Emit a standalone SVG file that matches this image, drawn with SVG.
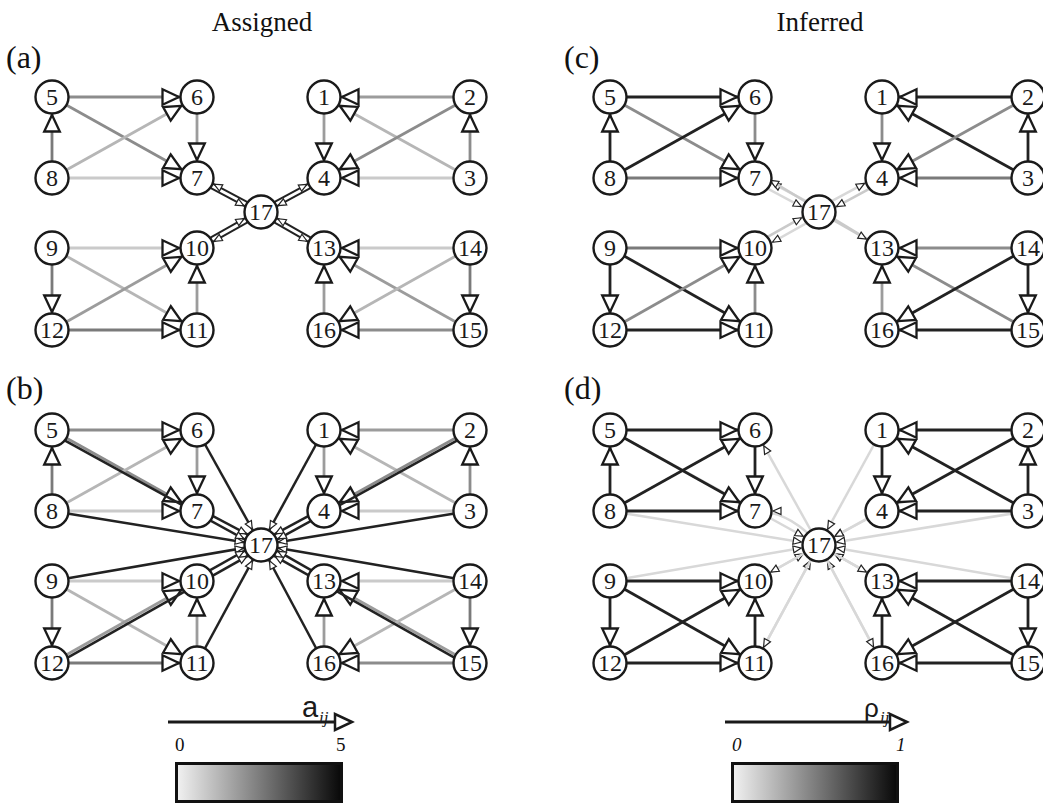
<svg xmlns="http://www.w3.org/2000/svg" width="1043" height="805" viewBox="0 0 1043 805">
<defs>
<style>
.node circle{fill:#fff;stroke:#1a1a1a;stroke-width:2.4}
.node text{font-family:"Liberation Serif","Times New Roman",serif;font-size:24px;text-anchor:middle;fill:#1a1a1a}
.e{stroke-width:2.8;fill:none;marker-end:url(#big)}
.s{stroke-width:2;fill:none;marker-end:url(#small)}
.d{stroke-width:2.5;fill:none;marker-end:url(#small)}
.l{stroke-width:2.5;fill:none;marker-end:url(#small)}
.k1{stroke:#222}
.k3{stroke:#7a7a7a}
.k4{stroke:#8c8c8c}
.k5{stroke:#9c9c9c}
.k6{stroke:#b6b6b6}
.k7{stroke:#cacaca}
.k8{stroke:#d8d8d8}
.ah{fill:#fff;stroke:#1a1a1a;stroke-width:2.3;stroke-linejoin:miter}
.as{fill:#fff;stroke:#222;stroke-width:1.2}
.title{font-family:"Liberation Serif","Times New Roman",serif;font-size:27px;fill:#111}
.plabel{font-family:"Liberation Serif","Times New Roman",serif;font-size:32px;fill:#111}
.num{font-family:"Liberation Serif","Times New Roman",serif;font-size:19px;fill:#111}
</style>
<marker id="big" markerUnits="userSpaceOnUse" orient="auto" refX="0" refY="0" markerWidth="40" markerHeight="20" overflow="visible" style="overflow:visible">
<path class="ah" d="M-18,0 L-34.5,-7.8 L-34.5,7.8 Z"/>
</marker>
<marker id="small" markerUnits="userSpaceOnUse" orient="auto" refX="0" refY="0" markerWidth="30" markerHeight="10" overflow="visible" style="overflow:visible">
<path class="as" d="M-18,0 L-26,-3.5 L-26,3.5 Z"/>
</marker>
<linearGradient id="grad" x1="0" y1="0" x2="1" y2="0">
<stop offset="0" stop-color="#f2f2f2"/>
<stop offset="1" stop-color="#080808"/>
</linearGradient>
</defs>
<rect width="1043" height="805" fill="#fff"/>

<text class="title" x="262" y="31" text-anchor="middle">Assigned</text>
<text class="title" x="820" y="31" text-anchor="middle">Inferred</text>
<text class="plabel" x="6" y="68">(a)</text>
<text class="plabel" x="6" y="399">(b)</text>
<text class="plabel" x="564" y="68">(c)</text>
<text class="plabel" x="564" y="399">(d)</text>

<!-- Panel (a) -->
<g id="panel-a">
<g id="a-connectors">
<line class="e k4" x1="52" y1="97" x2="197" y2="97"/>
<line class="e k4" x1="52" y1="97" x2="197" y2="178"/>
<line class="e k3" x1="52" y1="178" x2="52" y2="97"/>
<line class="e k6" x1="52" y1="178" x2="197" y2="97"/>
<line class="e k7" x1="52" y1="178" x2="197" y2="178"/>
<line class="e k5" x1="197" y1="97" x2="197" y2="178"/>
<line class="e k7" x1="52" y1="248" x2="197" y2="248"/>
<line class="e k6" x1="52" y1="248" x2="197" y2="330"/>
<line class="e k3" x1="52" y1="248" x2="52" y2="330"/>
<line class="e k5" x1="52" y1="330" x2="197" y2="248"/>
<line class="e k3" x1="52" y1="330" x2="197" y2="330"/>
<line class="e k5" x1="197" y1="330" x2="197" y2="248"/>
<line class="e k5" x1="470" y1="97" x2="324" y2="97"/>
<line class="e k6" x1="470" y1="178" x2="324" y2="97"/>
<line class="e k5" x1="324" y1="97" x2="324" y2="178"/>
<line class="e k4" x1="470" y1="97" x2="324" y2="178"/>
<line class="e k7" x1="470" y1="178" x2="324" y2="178"/>
<line class="e k4" x1="470" y1="178" x2="470" y2="97"/>
<line class="e k7" x1="470" y1="248" x2="324" y2="248"/>
<line class="e k5" x1="470" y1="330" x2="324" y2="248"/>
<line class="e k6" x1="470" y1="248" x2="324" y2="330"/>
<line class="e k4" x1="470" y1="330" x2="324" y2="330"/>
<line class="e k5" x1="324" y1="330" x2="324" y2="248"/>
<line class="e k3" x1="470" y1="248" x2="470" y2="330"/>
<line class="s k1" x1="262.17" y1="209.79" x2="198.17" y2="175.79"/>
<line class="s k1" x1="195.83" y1="180.21" x2="259.83" y2="214.21"/>
<line class="s k1" x1="262.23" y1="214.18" x2="198.23" y2="250.18"/>
<line class="s k1" x1="195.77" y1="245.82" x2="259.77" y2="209.82"/>
<line class="s k1" x1="259.81" y1="209.8" x2="322.81" y2="175.8"/>
<line class="s k1" x1="325.19" y1="180.2" x2="262.19" y2="214.2"/>
<line class="s k1" x1="259.76" y1="214.17" x2="322.76" y2="250.17"/>
<line class="s k1" x1="325.24" y1="245.83" x2="262.24" y2="209.83"/>
</g>
<g id="a-n1" class="node"><circle cx="324" cy="97" r="16.5"/><text x="324" y="105">1</text></g>
<g id="a-n2" class="node"><circle cx="470" cy="97" r="16.5"/><text x="470" y="105">2</text></g>
<g id="a-n3" class="node"><circle cx="470" cy="178" r="16.5"/><text x="470" y="186">3</text></g>
<g id="a-n4" class="node"><circle cx="324" cy="178" r="16.5"/><text x="324" y="186">4</text></g>
<g id="a-n5" class="node"><circle cx="52" cy="97" r="16.5"/><text x="52" y="105">5</text></g>
<g id="a-n6" class="node"><circle cx="197" cy="97" r="16.5"/><text x="197" y="105">6</text></g>
<g id="a-n7" class="node"><circle cx="197" cy="178" r="16.5"/><text x="197" y="186">7</text></g>
<g id="a-n8" class="node"><circle cx="52" cy="178" r="16.5"/><text x="52" y="186">8</text></g>
<g id="a-n9" class="node"><circle cx="52" cy="248" r="16.5"/><text x="52" y="256">9</text></g>
<g id="a-n10" class="node"><circle cx="197" cy="248" r="16.5"/><text x="197" y="256">10</text></g>
<g id="a-n11" class="node"><circle cx="197" cy="330" r="16.5"/><text x="197" y="338">11</text></g>
<g id="a-n12" class="node"><circle cx="52" cy="330" r="16.5"/><text x="52" y="338">12</text></g>
<g id="a-n13" class="node"><circle cx="324" cy="248" r="16.5"/><text x="324" y="256">13</text></g>
<g id="a-n14" class="node"><circle cx="470" cy="248" r="16.5"/><text x="470" y="256">14</text></g>
<g id="a-n15" class="node"><circle cx="470" cy="330" r="16.5"/><text x="470" y="338">15</text></g>
<g id="a-n16" class="node"><circle cx="324" cy="330" r="16.5"/><text x="324" y="338">16</text></g>
<g id="a-n17" class="node"><circle cx="261" cy="212" r="16.5"/><text x="261" y="220">17</text></g>
</g>

<!-- Panel (b) -->
<g id="panel-b" transform="translate(0,333)">
<g id="b-connectors">
<line class="e k4" x1="52" y1="97" x2="197" y2="97"/>
<line class="e k4" x1="52" y1="97" x2="197" y2="178"/>
<line class="e k3" x1="52" y1="178" x2="52" y2="97"/>
<line class="e k6" x1="52" y1="178" x2="197" y2="97"/>
<line class="e k7" x1="52" y1="178" x2="197" y2="178"/>
<line class="e k5" x1="197" y1="97" x2="197" y2="178"/>
<line class="e k7" x1="52" y1="248" x2="197" y2="248"/>
<line class="e k6" x1="52" y1="248" x2="197" y2="330"/>
<line class="e k3" x1="52" y1="248" x2="52" y2="330"/>
<line class="e k5" x1="52" y1="330" x2="197" y2="248"/>
<line class="e k3" x1="52" y1="330" x2="197" y2="330"/>
<line class="e k5" x1="197" y1="330" x2="197" y2="248"/>
<line class="e k5" x1="470" y1="97" x2="324" y2="97"/>
<line class="e k6" x1="470" y1="178" x2="324" y2="97"/>
<line class="e k5" x1="324" y1="97" x2="324" y2="178"/>
<line class="e k4" x1="470" y1="97" x2="324" y2="178"/>
<line class="e k7" x1="470" y1="178" x2="324" y2="178"/>
<line class="e k4" x1="470" y1="178" x2="470" y2="97"/>
<line class="e k7" x1="470" y1="248" x2="324" y2="248"/>
<line class="e k5" x1="470" y1="330" x2="324" y2="248"/>
<line class="e k6" x1="470" y1="248" x2="324" y2="330"/>
<line class="e k4" x1="470" y1="330" x2="324" y2="330"/>
<line class="e k5" x1="324" y1="330" x2="324" y2="248"/>
<line class="e k3" x1="470" y1="248" x2="470" y2="330"/>
<line class="d k1" x1="197" y1="97" x2="261" y2="212"/>
<line class="d k1" x1="52" y1="178" x2="261" y2="212"/>
<line class="d k1" x1="52" y1="248" x2="261" y2="212"/>
<line class="d k1" x1="197" y1="330" x2="261" y2="212"/>
<line class="d k1" x1="324" y1="97" x2="261" y2="212"/>
<line class="d k1" x1="470" y1="178" x2="261" y2="212"/>
<line class="d k1" x1="470" y1="248" x2="261" y2="212"/>
<line class="d k1" x1="324" y1="330" x2="261" y2="212"/>
<line class="d k1" x1="198.45" y1="175.37" x2="262.45" y2="209.37"/>
<line class="d k1" x1="50.55" y1="99.63" x2="259.55" y2="214.63"/>
<line class="d k1" x1="195.53" y1="245.39" x2="259.53" y2="209.39"/>
<line class="d k1" x1="53.47" y1="332.61" x2="262.47" y2="214.61"/>
<line class="d k1" x1="322.55" y1="175.37" x2="259.55" y2="209.37"/>
<line class="d k1" x1="471.45" y1="99.63" x2="262.45" y2="214.63"/>
<line class="d k1" x1="325.47" y1="245.39" x2="262.47" y2="209.39"/>
<line class="d k1" x1="468.53" y1="332.61" x2="259.53" y2="214.61"/>
</g>
<g id="b-n1" class="node"><circle cx="324" cy="97" r="16.5"/><text x="324" y="105">1</text></g>
<g id="b-n2" class="node"><circle cx="470" cy="97" r="16.5"/><text x="470" y="105">2</text></g>
<g id="b-n3" class="node"><circle cx="470" cy="178" r="16.5"/><text x="470" y="186">3</text></g>
<g id="b-n4" class="node"><circle cx="324" cy="178" r="16.5"/><text x="324" y="186">4</text></g>
<g id="b-n5" class="node"><circle cx="52" cy="97" r="16.5"/><text x="52" y="105">5</text></g>
<g id="b-n6" class="node"><circle cx="197" cy="97" r="16.5"/><text x="197" y="105">6</text></g>
<g id="b-n7" class="node"><circle cx="197" cy="178" r="16.5"/><text x="197" y="186">7</text></g>
<g id="b-n8" class="node"><circle cx="52" cy="178" r="16.5"/><text x="52" y="186">8</text></g>
<g id="b-n9" class="node"><circle cx="52" cy="248" r="16.5"/><text x="52" y="256">9</text></g>
<g id="b-n10" class="node"><circle cx="197" cy="248" r="16.5"/><text x="197" y="256">10</text></g>
<g id="b-n11" class="node"><circle cx="197" cy="330" r="16.5"/><text x="197" y="338">11</text></g>
<g id="b-n12" class="node"><circle cx="52" cy="330" r="16.5"/><text x="52" y="338">12</text></g>
<g id="b-n13" class="node"><circle cx="324" cy="248" r="16.5"/><text x="324" y="256">13</text></g>
<g id="b-n14" class="node"><circle cx="470" cy="248" r="16.5"/><text x="470" y="256">14</text></g>
<g id="b-n15" class="node"><circle cx="470" cy="330" r="16.5"/><text x="470" y="338">15</text></g>
<g id="b-n16" class="node"><circle cx="324" cy="330" r="16.5"/><text x="324" y="338">16</text></g>
<g id="b-n17" class="node"><circle cx="261" cy="212" r="16.5"/><text x="261" y="220">17</text></g>
</g>

<!-- Panel (c) -->
<g id="panel-c" transform="translate(558,0)">
<g id="c-connectors">
<line class="l k8" x1="262.64" y1="208.91" x2="198.64" y2="174.91"/>
<line class="l k8" x1="195.36" y1="181.09" x2="259.36" y2="215.09"/>
<line class="l k7" x1="324" y1="248" x2="197" y2="171"/>
<line class="l k8" x1="262.72" y1="215.05" x2="198.72" y2="251.05"/>
<line class="l k7" x1="195.28" y1="244.95" x2="259.28" y2="208.95"/>
<line class="l k8" x1="259.33" y1="208.92" x2="322.33" y2="174.92"/>
<line class="l k7" x1="325.67" y1="181.08" x2="262.67" y2="215.08"/>
<line class="l k7" x1="261" y1="212" x2="324" y2="248"/>
<line class="e k1" x1="52" y1="97" x2="197" y2="97"/>
<line class="e k4" x1="52" y1="97" x2="197" y2="178"/>
<line class="e k1" x1="52" y1="178" x2="52" y2="97"/>
<line class="e k1" x1="52" y1="178" x2="197" y2="97"/>
<line class="e k3" x1="52" y1="178" x2="197" y2="178"/>
<line class="e k4" x1="197" y1="97" x2="197" y2="178"/>
<line class="e k3" x1="52" y1="248" x2="197" y2="248"/>
<line class="e k1" x1="52" y1="248" x2="197" y2="330"/>
<line class="e k1" x1="52" y1="248" x2="52" y2="330"/>
<line class="e k4" x1="52" y1="330" x2="197" y2="248"/>
<line class="e k1" x1="52" y1="330" x2="197" y2="330"/>
<line class="e k4" x1="197" y1="330" x2="197" y2="248"/>
<line class="e k1" x1="470" y1="97" x2="324" y2="97"/>
<line class="e k1" x1="470" y1="178" x2="324" y2="97"/>
<line class="e k4" x1="324" y1="97" x2="324" y2="178"/>
<line class="e k4" x1="470" y1="97" x2="324" y2="178"/>
<line class="e k3" x1="470" y1="178" x2="324" y2="178"/>
<line class="e k1" x1="470" y1="178" x2="470" y2="97"/>
<line class="e k4" x1="470" y1="248" x2="324" y2="248"/>
<line class="e k4" x1="470" y1="330" x2="324" y2="248"/>
<line class="e k1" x1="470" y1="248" x2="324" y2="330"/>
<line class="e k1" x1="470" y1="330" x2="324" y2="330"/>
<line class="e k5" x1="324" y1="330" x2="324" y2="248"/>
<line class="e k1" x1="470" y1="248" x2="470" y2="330"/>
</g>
<g id="c-n1" class="node"><circle cx="324" cy="97" r="16.5"/><text x="324" y="105">1</text></g>
<g id="c-n2" class="node"><circle cx="470" cy="97" r="16.5"/><text x="470" y="105">2</text></g>
<g id="c-n3" class="node"><circle cx="470" cy="178" r="16.5"/><text x="470" y="186">3</text></g>
<g id="c-n4" class="node"><circle cx="324" cy="178" r="16.5"/><text x="324" y="186">4</text></g>
<g id="c-n5" class="node"><circle cx="52" cy="97" r="16.5"/><text x="52" y="105">5</text></g>
<g id="c-n6" class="node"><circle cx="197" cy="97" r="16.5"/><text x="197" y="105">6</text></g>
<g id="c-n7" class="node"><circle cx="197" cy="178" r="16.5"/><text x="197" y="186">7</text></g>
<g id="c-n8" class="node"><circle cx="52" cy="178" r="16.5"/><text x="52" y="186">8</text></g>
<g id="c-n9" class="node"><circle cx="52" cy="248" r="16.5"/><text x="52" y="256">9</text></g>
<g id="c-n10" class="node"><circle cx="197" cy="248" r="16.5"/><text x="197" y="256">10</text></g>
<g id="c-n11" class="node"><circle cx="197" cy="330" r="16.5"/><text x="197" y="338">11</text></g>
<g id="c-n12" class="node"><circle cx="52" cy="330" r="16.5"/><text x="52" y="338">12</text></g>
<g id="c-n13" class="node"><circle cx="324" cy="248" r="16.5"/><text x="324" y="256">13</text></g>
<g id="c-n14" class="node"><circle cx="470" cy="248" r="16.5"/><text x="470" y="256">14</text></g>
<g id="c-n15" class="node"><circle cx="470" cy="330" r="16.5"/><text x="470" y="338">15</text></g>
<g id="c-n16" class="node"><circle cx="324" cy="330" r="16.5"/><text x="324" y="338">16</text></g>
<g id="c-n17" class="node"><circle cx="261" cy="212" r="16.5"/><text x="261" y="220">17</text></g>
</g>

<!-- Panel (d) -->
<g id="panel-d" transform="translate(558,333)">
<g id="d-connectors">
<line class="l k8" x1="324" y1="97" x2="261" y2="212"/>
<line class="l k8" x1="470" y1="97" x2="261" y2="212"/>
<line class="l k8" x1="470" y1="178" x2="261" y2="212"/>
<line class="l k8" x1="324" y1="178" x2="261" y2="212"/>
<line class="l k8" x1="324" y1="248" x2="261" y2="212"/>
<line class="l k8" x1="470" y1="248" x2="261" y2="212"/>
<line class="l k8" x1="470" y1="330" x2="261" y2="212"/>
<line class="l k8" x1="324" y1="330" x2="261" y2="212"/>
<line class="l k8" x1="52" y1="97" x2="261" y2="212"/>
<line class="l k8" x1="52" y1="178" x2="261" y2="212"/>
<line class="l k8" x1="52" y1="248" x2="261" y2="212"/>
<line class="l k8" x1="52" y1="330" x2="261" y2="212"/>
<line class="l k8" x1="197" y1="330" x2="261" y2="212"/>
<line class="l k8" x1="261" y1="212" x2="197" y2="97"/>
<path class="l k8" d="M261,212 Q232,178 197,178"/>
<line class="l k8" x1="261" y1="212" x2="197" y2="248"/>
<line class="l k8" x1="261" y1="212" x2="197" y2="330"/>
<line class="l k8" x1="261" y1="212" x2="324" y2="248"/>
<line class="l k8" x1="261" y1="212" x2="324" y2="330"/>
<line class="e k1" x1="52" y1="97" x2="197" y2="97"/>
<line class="e k1" x1="52" y1="97" x2="197" y2="178"/>
<line class="e k1" x1="52" y1="178" x2="52" y2="97"/>
<line class="e k1" x1="52" y1="178" x2="197" y2="97"/>
<line class="e k1" x1="52" y1="178" x2="197" y2="178"/>
<line class="e k1" x1="197" y1="97" x2="197" y2="178"/>
<line class="e k1" x1="52" y1="248" x2="197" y2="248"/>
<line class="e k1" x1="52" y1="248" x2="197" y2="330"/>
<line class="e k1" x1="52" y1="248" x2="52" y2="330"/>
<line class="e k1" x1="52" y1="330" x2="197" y2="248"/>
<line class="e k1" x1="52" y1="330" x2="197" y2="330"/>
<line class="e k1" x1="197" y1="330" x2="197" y2="248"/>
<line class="e k1" x1="470" y1="97" x2="324" y2="97"/>
<line class="e k1" x1="470" y1="178" x2="324" y2="97"/>
<line class="e k1" x1="324" y1="97" x2="324" y2="178"/>
<line class="e k1" x1="470" y1="97" x2="324" y2="178"/>
<line class="e k1" x1="470" y1="178" x2="324" y2="178"/>
<line class="e k1" x1="470" y1="178" x2="470" y2="97"/>
<line class="e k1" x1="470" y1="248" x2="324" y2="248"/>
<line class="e k1" x1="470" y1="330" x2="324" y2="248"/>
<line class="e k1" x1="470" y1="248" x2="324" y2="330"/>
<line class="e k1" x1="470" y1="330" x2="324" y2="330"/>
<line class="e k1" x1="324" y1="330" x2="324" y2="248"/>
<line class="e k1" x1="470" y1="248" x2="470" y2="330"/>
</g>
<g id="d-n1" class="node"><circle cx="324" cy="97" r="16.5"/><text x="324" y="105">1</text></g>
<g id="d-n2" class="node"><circle cx="470" cy="97" r="16.5"/><text x="470" y="105">2</text></g>
<g id="d-n3" class="node"><circle cx="470" cy="178" r="16.5"/><text x="470" y="186">3</text></g>
<g id="d-n4" class="node"><circle cx="324" cy="178" r="16.5"/><text x="324" y="186">4</text></g>
<g id="d-n5" class="node"><circle cx="52" cy="97" r="16.5"/><text x="52" y="105">5</text></g>
<g id="d-n6" class="node"><circle cx="197" cy="97" r="16.5"/><text x="197" y="105">6</text></g>
<g id="d-n7" class="node"><circle cx="197" cy="178" r="16.5"/><text x="197" y="186">7</text></g>
<g id="d-n8" class="node"><circle cx="52" cy="178" r="16.5"/><text x="52" y="186">8</text></g>
<g id="d-n9" class="node"><circle cx="52" cy="248" r="16.5"/><text x="52" y="256">9</text></g>
<g id="d-n10" class="node"><circle cx="197" cy="248" r="16.5"/><text x="197" y="256">10</text></g>
<g id="d-n11" class="node"><circle cx="197" cy="330" r="16.5"/><text x="197" y="338">11</text></g>
<g id="d-n12" class="node"><circle cx="52" cy="330" r="16.5"/><text x="52" y="338">12</text></g>
<g id="d-n13" class="node"><circle cx="324" cy="248" r="16.5"/><text x="324" y="256">13</text></g>
<g id="d-n14" class="node"><circle cx="470" cy="248" r="16.5"/><text x="470" y="256">14</text></g>
<g id="d-n15" class="node"><circle cx="470" cy="330" r="16.5"/><text x="470" y="338">15</text></g>
<g id="d-n16" class="node"><circle cx="324" cy="330" r="16.5"/><text x="324" y="338">16</text></g>
<g id="d-n17" class="node"><circle cx="261" cy="212" r="16.5"/><text x="261" y="220">17</text></g>
</g>

<!-- Legends -->
<g id="legend-assigned">
<line x1="168" y1="722" x2="336" y2="722" stroke="#1a1a1a" stroke-width="3"/>
<path d="M352,722 L335,714 L335,730 Z" fill="#fff" stroke="#1a1a1a" stroke-width="2.5"/>
<text x="302" y="717" font-family="Liberation Sans, Arial, sans-serif" font-size="29" fill="#1a1a1a">a</text>
<text x="319" y="723" font-family="Liberation Serif, serif" font-style="italic" font-size="17" fill="#1a1a1a">ij</text>
<text class="num" x="175" y="751">0</text>
<text class="num" x="336" y="751">5</text>
<rect x="176.5" y="763.5" width="165" height="38" fill="url(#grad)" stroke="#111" stroke-width="3"/>
</g>
<g id="legend-inferred">
<line x1="725" y1="722" x2="891" y2="722" stroke="#1a1a1a" stroke-width="3"/>
<path d="M907,722 L890,714 L890,730 Z" fill="#fff" stroke="#1a1a1a" stroke-width="2.5"/>
<text x="864" y="717" font-family="Liberation Sans, Arial, sans-serif" font-size="26" fill="#1a1a1a">ρ</text>
<text x="880" y="723" font-family="Liberation Serif, serif" font-style="italic" font-size="17" fill="#1a1a1a">ij</text>
<text class="num" x="732" y="751" font-style="italic">0</text>
<text class="num" x="896" y="751" font-style="italic">1</text>
<rect x="732.5" y="763.5" width="165" height="38" fill="url(#grad)" stroke="#111" stroke-width="3"/>
</g>
</svg>
